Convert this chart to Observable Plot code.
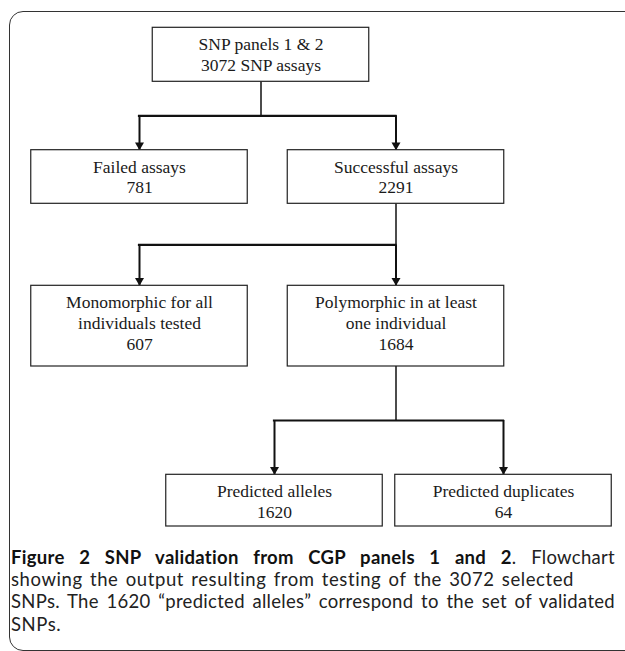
<!DOCTYPE html>
<html>
<head>
<meta charset="utf-8">
<script src="https://cdn.jsdelivr.net/npm/d3@7"></script>
<script src="https://cdn.jsdelivr.net/npm/@observablehq/plot@0.6"></script>
<style>
html, body { margin: 0; padding: 0; background: #fff; overflow: hidden; width: 625px; height: 651px; }
#chart { position: absolute; left: 0; top: 0; }
#frame { position: absolute; left: 8.6px; top: 11.3px; width: 700px; height: 638px; border: 1.4px solid #333; border-radius: 14px; pointer-events: none; }
#caption { position: absolute; left: 11px; top: 545.7px; width: 604px; font-family: Lato, sans-serif; font-size: 18.5px; line-height: 22.3px; color: #222; letter-spacing: 0.58px; word-spacing: 2px; }
#caption div { white-space: nowrap; height: 22.3px; }
#caption .j { text-align: justify; text-align-last: justify; letter-spacing: 0.3px; word-spacing: 0; }
#caption b { color: #111; }
</style>
</head>
<body>
<div id="chart"></div>
<div id="frame"></div>
<div id="caption">
  <div class="j"><b>Figure 2 SNP validation from CGP panels 1 and 2</b>. Flowchart</div>
  <div>showing the output resulting from testing of the 3072 selected</div>
  <div class="j">SNPs. The 1620 “predicted alleles” correspond to the set of validated</div>
  <div>SNPs.</div>
</div>
<script>
// ---- data ----
const labels = ["SNP panels 1 & 2", "Failed assays", "Successful assays",
  "Monomorphic for all\nindividuals tested", "Polymorphic in at least\none individual",
  "Predicted alleles", "Predicted duplicates"];
const counts = [3072, 781, 2291, 607, 1684, 1620, 64];
const countSuffix = [" SNP assays", "", "", "", "", "", ""];
const parents = [null, 0, 0, 2, 2, 4, 4];

// ---- layout (in layout units) ----
const nodeX = [260.5, 139, 395.5, 139, 395.5, 274, 503];
const nodeTop = [27.3, 149.7, 149.7, 285.3, 285.3, 474.3, 474.3];
const nodeBottom = [81.3, 203.3, 203.3, 366, 366, 526, 526];
const busY = {0: 115.3, 2: 244.3, 4: 420};
const boxWidth = 216.5;

const nodes = labels.map((l, i) => ({
  label: l + "\n" + counts[i] + countSuffix[i],
  x: nodeX[i], y1: nodeTop[i], y2: nodeBottom[i]
}));

const parentIds = [...new Set(parents.filter(p => p !== null))];
const stems = parentIds.map(p => ({x: nodeX[p], y1: nodeBottom[p], y2: busY[p]}));
const buses = parentIds.map(p => {
  const cx = parents.map((q, i) => q === p ? nodeX[i] : null).filter(v => v !== null);
  return {x1: d3.min(cx), x2: d3.max(cx), y: busY[p]};
});
const drops = parents.map((p, i) => p === null ? null : ({x: nodeX[i], y1: busY[p], y2: nodeTop[i]})).filter(Boolean);

const W = 625, H = 540;
const plot = Plot.plot({
  width: W, height: H,
  margin: 0,
  x: {domain: [0, W], range: [0, W], axis: null},
  y: {domain: [0, H], range: [0, H], axis: null},
  style: {background: "transparent"},
  marks: [
    Plot.ruleX(stems, {x: "x", y1: "y1", y2: "y2", stroke: "#111", strokeWidth: 1.5}),
    Plot.ruleY(buses, {x1: "x1", x2: "x2", y: "y", stroke: "#111", strokeWidth: 2.2, strokeLinecap: "square"}),
    Plot.ruleX(drops, {x: "x", y1: "y1", y2: "y2", stroke: "#111", strokeWidth: 2}),
    Plot.dot(drops, {x: "x", y: "y2", symbol: "triangle2", r: 4.3, rotate: 180, fill: "#111", stroke: null, dy: -5.2}),
    Plot.rect(nodes, {x1: d => d.x - boxWidth / 2, x2: d => d.x + boxWidth / 2, y1: "y1", y2: "y2",
      fill: "white", stroke: "#222", strokeWidth: 1.2}),
    Plot.text(nodes, {x: "x", y: "y1", text: "label", lineAnchor: "top", dy: 7.7,
      fontFamily: "Liberation Serif", fontSize: 17.5, lineHeight: 1.183, fill: "#1a1a1a"})
  ]
});
document.getElementById("chart").appendChild(plot);
</script>
</body>
</html>
